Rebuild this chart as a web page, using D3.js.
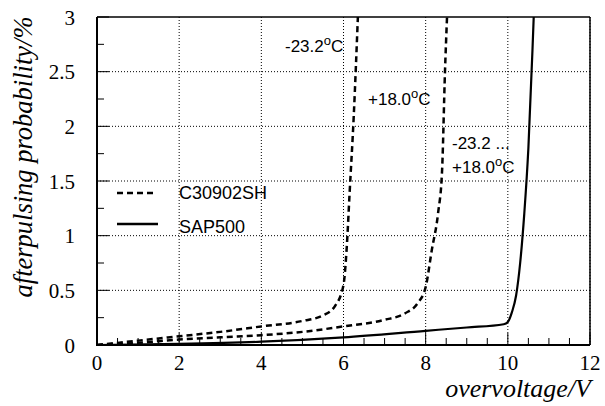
<!DOCTYPE html>
<html><head><meta charset="utf-8">
<script src="https://cdn.jsdelivr.net/npm/d3@7"></script>
</head><body style="margin:0;background:#fff">
<svg id="c" width="605" height="406" font-family="Liberation Serif" style="font-family:'Liberation Serif'"></svg>
<script>
const xTicks = [0, 2, 4, 6, 8, 10, 12];
const yTicks = [0, 0.5, 1, 1.5, 2, 2.5, 3];
const yTickLabels = ["0", "0.5", "1", "1.5", "2", "2.5", "3"];
const c30902Cold = [[0,0],[1,0.04],[2,0.08],[3,0.12],[4,0.17],[5,0.22],[5.5,0.27],[5.8,0.36],[6.0,0.55],[6.08,0.9],[6.15,1.4],[6.25,2.1],[6.35,3.0]];
const c30902Warm = [[0,0],[1,0.02],[2,0.05],[3,0.07],[4,0.09],[5,0.12],[6,0.17],[7,0.23],[7.5,0.29],[7.8,0.38],[8.0,0.53],[8.15,0.87],[8.3,1.2],[8.4,1.6],[8.47,2.5],[8.52,3.0]];
const sap500 = [[0,0],[2,0.01],[4,0.03],[6,0.07],[8,0.13],[9,0.16],[9.9,0.19],[10,0.21],[10.1,0.3],[10.2,0.45],[10.3,0.75],[10.4,1.2],[10.5,1.8],[10.6,2.7],[10.63,3.0]];
const legendLabels = ["C30902SH", "SAP500"];

const svg = d3.select("#c");
const L = 97, R = 590, T = 17, B = 345;
const x = d3.scaleLinear().domain([0, 12]).range([L, R]);
const y = d3.scaleLinear().domain([0, 3]).range([B, T]);

// text first, so the fonts are requested at once
function serifText() {
  return svg.append("text").attr("font-family", "Liberation Serif").style("font-family", `"Liberation Serif"`);
}
function sansText() {
  return svg.append("text").attr("font-family", "Liberation Sans").style("font-family", `"Liberation Sans"`);
}

xTicks.forEach(d => {
  serifText().style("font-size", "21px")
    .attr("x", x(d)).attr("y", 370).attr("text-anchor", "middle").text(d);
});
yTicks.forEach((d, i) => {
  serifText().style("font-size", "21px")
    .attr("x", 75).attr("y", y(d) + 7.5).attr("text-anchor", "end").text(yTickLabels[i]);
});
serifText().style("font-style", "italic").style("font-size", "26px")
  .attr("x", 591).attr("y", 397).attr("text-anchor", "end").text("overvoltage/V");
serifText().style("font-style", "italic").style("font-size", "26.5px")
  .attr("transform", "translate(32,157) rotate(-90)").attr("text-anchor", "middle").text("afterpulsing probability/%");

// grid
xTicks.filter(d => d > 0).forEach(d => {
  svg.append("line").attr("x1", x(d)).attr("x2", x(d)).attr("y1", B).attr("y2", T)
    .attr("stroke", "#000").attr("stroke-width", 1).attr("stroke-dasharray", "1,2");
});
yTicks.filter(d => d > 0 && d < 3).forEach(d => {
  svg.append("line").attr("x1", L).attr("x2", R).attr("y1", y(d)).attr("y2", y(d))
    .attr("stroke", "#000").attr("stroke-width", 1).attr("stroke-dasharray", "1,2");
});

// minor/major ticks inward
d3.range(0, 12.01, 0.5).forEach(d => {
  const major = Math.abs(d - Math.round(d / 2) * 2) < 1e-6;
  svg.append("line").attr("x1", x(d)).attr("x2", x(d)).attr("y1", B).attr("y2", B - (major ? 12 : 7))
    .attr("stroke", "#000").attr("stroke-width", 1);
});
d3.range(0, 3.01, 0.25).forEach(d => {
  const major = Math.abs(d * 2 - Math.round(d * 2)) < 1e-6;
  svg.append("line").attr("x1", L).attr("x2", L + (major ? 12 : 7)).attr("y1", y(d)).attr("y2", y(d))
    .attr("stroke", "#000").attr("stroke-width", 1);
});

// frame
svg.append("line").attr("x1", L).attr("x2", R).attr("y1", T).attr("y2", T).attr("stroke", "#000").attr("stroke-width", 1.5);
svg.append("line").attr("x1", R).attr("x2", R).attr("y1", T).attr("y2", B).attr("stroke", "#000").attr("stroke-width", 1.5);
svg.append("line").attr("x1", L).attr("x2", L).attr("y1", T).attr("y2", B + 1).attr("stroke", "#000").attr("stroke-width", 2);
svg.append("line").attr("x1", L - 1).attr("x2", R).attr("y1", B).attr("y2", B).attr("stroke", "#000").attr("stroke-width", 2);

// curves
svg.append("clipPath").attr("id", "pc").append("rect").attr("x", L).attr("y", T).attr("width", R - L).attr("height", B - T);
const line = d3.line().x(d => x(d[0])).y(d => y(d[1])).curve(d3.curveMonotoneX);
[c30902Cold, c30902Warm].forEach(data => {
  svg.append("path").datum(data).attr("d", line).attr("fill", "none").attr("stroke", "#000")
    .attr("stroke-width", 2.5).attr("stroke-dasharray", "6,4").attr("clip-path", "url(#pc)");
});
svg.append("path").datum(sap500).attr("d", line).attr("fill", "none").attr("stroke", "#000")
  .attr("stroke-width", 2.2).attr("clip-path", "url(#pc)");

// legend
svg.append("line").attr("x1", 117).attr("x2", 156).attr("y1", 193).attr("y2", 193)
  .attr("stroke", "#000").attr("stroke-width", 2.5).attr("stroke-dasharray", "6,4");
svg.append("line").attr("x1", 117).attr("x2", 158).attr("y1", 224).attr("y2", 224)
  .attr("stroke", "#000").attr("stroke-width", 2.5);
sansText().style("font-size", "18px").attr("x", 179).attr("y", 199).text(legendLabels[0]);
sansText().style("font-size", "18px").attr("x", 179).attr("y", 233).text(legendLabels[1]);

// annotations
function deg(xp, yp, pre) {
  const t = sansText().style("font-size", "17px").attr("x", xp).attr("y", yp);
  t.append("tspan").text(pre);
  t.append("tspan").style("font-size", "13px").attr("dy", -7).text("o");
  t.append("tspan").attr("dy", 7).text("C");
}
deg(285, 52, "-23.2");
deg(368, 105, "+18.0");
sansText().style("font-size", "17px").attr("x", 452).attr("y", 149).text("-23.2 ...");
deg(452, 173, "+18.0");
</script>
</body></html>
